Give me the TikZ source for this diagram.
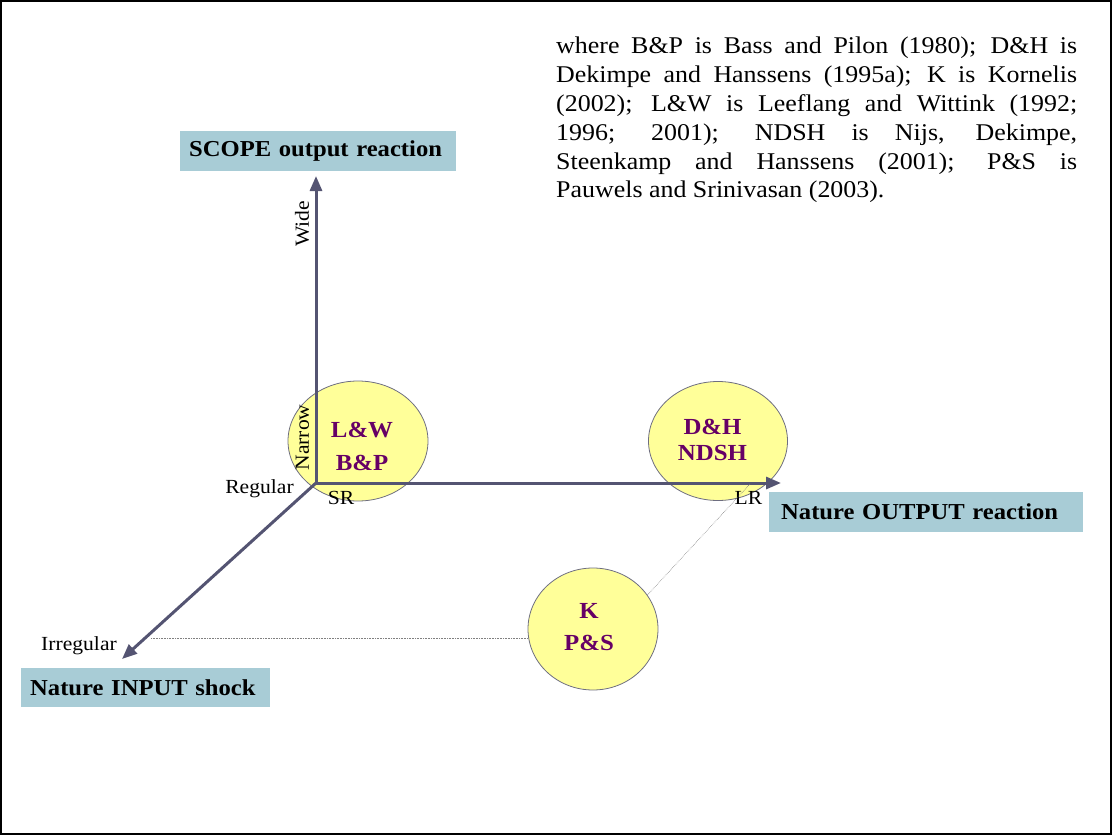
\documentclass[tikz,border=0pt]{standalone}
\usepackage{fontspec}
\setmainfont[FakeStretch=1.08]{Liberation Serif}
\usetikzlibrary{arrows.meta,shapes.geometric}
\definecolor{axiscol}{HTML}{545472}
\definecolor{boxfill}{HTML}{A8CCD6}
\definecolor{blobfill}{HTML}{FFFF99}
\definecolor{blobedge}{HTML}{6E6E80}
\definecolor{refcol}{HTML}{660066}
\tikzset{
  axis/.style={draw=axiscol,line width=3pt,-{Triangle[length=15pt,width=12pt]}},
  titlebox/.style={fill=boxfill,font=\bfseries\fontsize{22.8}{26}\selectfont,inner ysep=0pt,
    align=left,anchor=north west},
  blob/.style={ellipse,draw=blobedge,fill=blobfill,line width=0.8pt,inner sep=0pt},
  reflabel/.style={text=refcol,font=\bfseries\fontsize{23}{33}\selectfont,align=center},
  ticklabel/.style={font=\fontsize{20}{22}\selectfont,inner sep=0pt},
  guide/.style={draw=gray,line width=0.6pt,densely dotted}
}
\begin{document}
\begin{tikzpicture}[x=1pt,y=-1pt]
\useasboundingbox (0,0) rectangle (1112,835);
\draw[line width=2pt] (1,1) rectangle (1111,834);

% citation key
\node[anchor=base west,inner sep=0pt,text width=521pt,align=justify,
      font=\fontsize{24}{29}\selectfont] (key) at (556,53)
 {\hyphenpenalty=10000 where B\&P is Bass and Pilon (1980); D\&H is\linebreak
  Dekimpe and Hanssens (1995a); K is Kornelis\linebreak
  (2002); L\&W is Leeflang and Wittink (1992;\linebreak
  1996; 2001); NDSH is Nijs, Dekimpe,\linebreak
  Steenkamp and Hanssens (2001); P\&S is\linebreak
  Pauwels and Srinivasan (2003).};

% axis titles
\node[titlebox,inner xsep=9pt,text width=258pt,minimum height=40pt] (scope) at (180,131) {SCOPE output reaction};
\node[titlebox,inner xsep=12pt,text width=290pt,minimum height=40pt] (nout) at (769,492) {Nature OUTPUT reaction};
\node[titlebox,inner xsep=9pt,text width=231pt,minimum height=39pt] (nin) at (21,668) {Nature INPUT shock};

% reference clusters
\node[blob,minimum width=140pt,minimum height=120pt] (lw) at (358,441) {};
\node[blob,minimum width=139pt,minimum height=119pt] (dh) at (718,441) {};
\node[blob,minimum width=130pt,minimum height=122pt] (kps) at (593,629) {};
\node[reflabel] at (362,446) {L\&W\\B\&P};
\node[reflabel,font=\bfseries\fontsize{23}{26}\selectfont] at (712.5,439.5) {D\&H\\NDSH};
\node[reflabel,font=\bfseries\fontsize{23}{32}\selectfont] at (589,627.5) {K\\P\&S};

% axes
\coordinate (o) at (316,483);
\coordinate (top) at (316,176);
\coordinate (right) at (781,483);
\coordinate (low) at (122,659);
\draw[axis] (o) -- (top);
\draw[axis] (o) -- (right);
\draw[axis] (o) -- (low);

% scale labels
\node[ticklabel,rotate=90] (wide) at (302,224) {Wide};
\node[ticklabel,rotate=90] (narrow) at (302.5,437.5) {Narrow};
\node[ticklabel] (regular) at (259.5,489) {Regular};
\node[ticklabel] (sr) at (341,498) {SR};
\node[ticklabel] (lr) at (748.5,497.5) {LR};
\node[ticklabel] (irregular) at (79,646) {Irregular};

% guide lines
\coordinate (lrend) at (750,484);
\draw[guide] (irregular.east) ++(34,-8) coordinate (g1) -- (g1 -| kps.west);
\draw[guide] (kps.32) -- (lrend);
\end{tikzpicture}
\end{document}
